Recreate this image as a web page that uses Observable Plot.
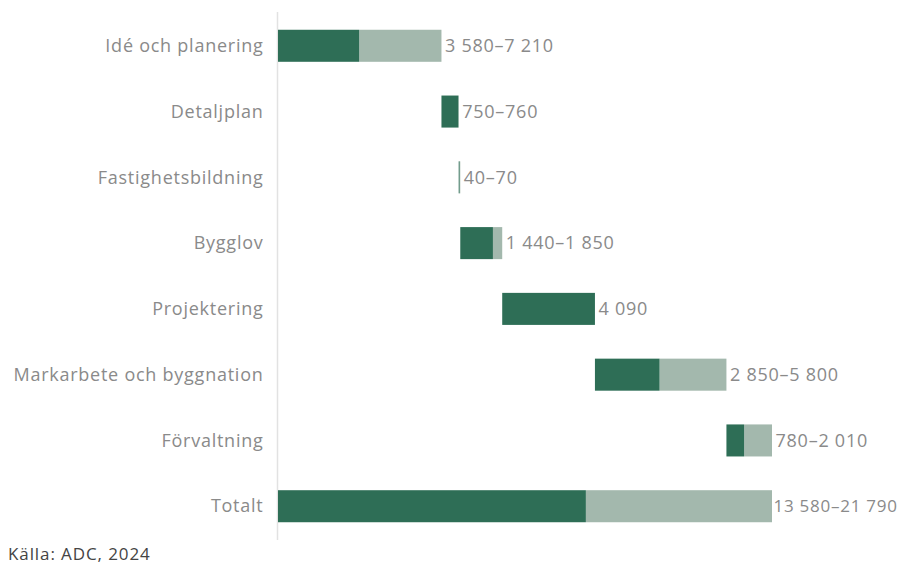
<!DOCTYPE html>
<html><head><meta charset="utf-8">
<script src="https://cdn.jsdelivr.net/npm/d3@7"></script>
<script src="https://cdn.jsdelivr.net/npm/@observablehq/plot@0.6"></script>
<style>
body{margin:0;background:#fff;overflow:hidden;position:relative;width:901px;height:566px;}
#chart svg{display:block;}
#caption{position:absolute;left:8px;top:542px;font-family:"Open Sans",sans-serif;font-size:17px;letter-spacing:0.9px;color:#444;line-height:normal;}
</style>
</head><body>
<div id="chart"></div>
<div id="caption">Källa: ADC, 2024</div>
<script>
const categories = ["Idé och planering","Detaljplan","Fastighetsbildning","Bygglov","Projektering","Markarbete och byggnation","Förvaltning","Totalt"];
const minValues = [3580, 750, 40, 1440, 4090, 2850, 780, 13580];
const maxValues = [7210, 760, 70, 1850, 4090, 5800, 2010, 21790];
const valueLabels = ["3 580–7 210","750–760","40–70","1 440–1 850","4 090","2 850–5 800","780–2 010","13 580–21 790"];

let cum = 0;
const rows = categories.map((c, i) => {
  const isTotal = c === "Totalt";
  const start = isTotal ? 0 : cum;
  if (!isTotal) cum += maxValues[i];
  return {cat: c, start, minEnd: start + minValues[i], maxEnd: start + maxValues[i], label: valueLabels[i]};
});

const dark = "#2e6e56", light = "#a3b8ad", gray = "#8a8a8a";
const font = "'Open Sans', sans-serif";

const plot = Plot.plot({
  width: 901, height: 541,
  marginLeft: 278, marginRight: 129, marginTop: 12, marginBottom: 1,
  style: {fontFamily: font, fontSize: "18px", color: gray, background: "#fff", letterSpacing: "0.75px"},
  x: {domain: [0, 21790], axis: null},
  y: {domain: categories, round: false, paddingInner: 0.513, paddingOuter: 0.27, label: null, tickSize: 0, tickPadding: 15},
  marks: [
    Plot.ruleX([0], {stroke: "#e2e2e2", strokeWidth: 1.5, dx: -1}),
    Plot.barX(rows, {y: "cat", x1: "minEnd", x2: "maxEnd", fill: light}),
    Plot.barX(rows, {y: "cat", x1: "start", x2: "minEnd", fill: dark}),
    Plot.text(rows.filter(d => d.cat !== "Totalt"), {y: "cat", x: "maxEnd", text: "label", textAnchor: "start", dx: 3, fill: gray, fontSize: 18}),
    Plot.text(rows.filter(d => d.cat === "Totalt"), {y: "cat", x: "maxEnd", text: "label", textAnchor: "start", dx: 1, fill: gray, fontSize: 17, letterSpacing: "0.1px"}),
    Plot.axisY({tickSize: 0, tickPadding: 15, fontSize: 18, fill: gray, label: null})
  ]
});
document.getElementById("chart").appendChild(plot);
</script>
</body></html>
